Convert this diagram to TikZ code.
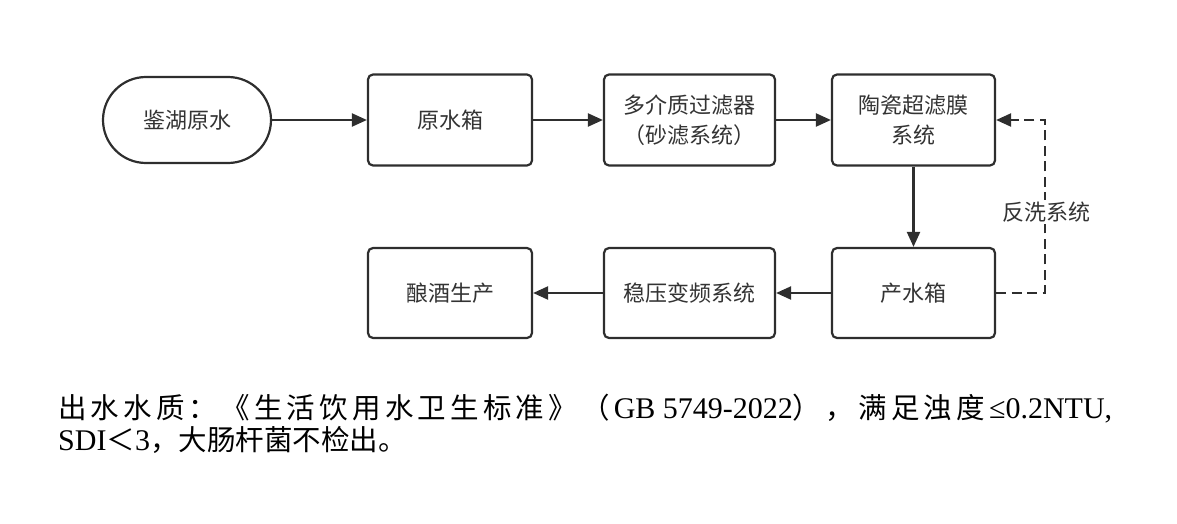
\documentclass[tikz,border=0pt]{standalone}
\usepackage{fontspec}
\setmainfont{Liberation Serif}
\newfontfamily\cjk{Noto Sans CJK SC}
\usetikzlibrary{arrows.meta}
\definecolor{lc}{HTML}{2E2E2E}
\definecolor{tc}{HTML}{333333}
\def\spreadloop#1{\ifx#1\relax\else#1\hspace{0pt plus 1fil}\expandafter\spreadloop\fi}
\newcommand\cjkn{\cjk\fontsize{28.5}{34}\selectfont}
\begin{document}
\begin{tikzpicture}[x=1pt,y=-1pt,
  box/.style={draw=lc, line width=2.2pt, rounded corners=5pt, minimum width=164pt, minimum height=91pt,
    font=\cjk\fontsize{22}{30}\selectfont, text=tc, align=center, inner sep=0pt},
  arr/.style={draw=lc, line width=2.2pt, -{Triangle[length=15pt,width=13pt]}},
  note/.style={anchor=west, inner sep=0pt, font=\fontsize{30}{34}\selectfont, text=black},
]
\path[use as bounding box] (0,0) rectangle (1177,524);
\node[box, rounded corners=43pt, minimum width=168pt, minimum height=86pt] (a) at (187,120) {鉴湖原水};
\node[box] (b) at (450,120) {原水箱};
\node[box, minimum width=171pt] (c) at (689.5,120) {多介质过滤器\\（砂滤系统）};
\node[box, minimum width=163pt] (d) at (913.5,120) {陶瓷超滤膜\\系统};
\node[box, minimum width=163pt, minimum height=90pt] (e) at (913.5,293) {产水箱};
\node[box, minimum width=171pt, minimum height=90pt] (f) at (689.5,293) {稳压变频系统};
\node[box, minimum height=90pt] (g) at (450,293) {酿酒生产};
\draw[arr] (a) -- (b);
\draw[arr] (b) -- (c);
\draw[arr] (c) -- (d);
\draw[arr] (d) -- (e);
\draw[arr] (e) -- (f);
\draw[arr] (f) -- (g);
\coordinate (q) at (1045,120);
\draw[arr, dash pattern=on 10pt off 5.5pt] (e.east) -| (q) -- (d.east);
\node[fill=white, inner sep=2pt, font=\cjk\fontsize{22}{26}\selectfont, text=tc] (lbl) at (1046,212) {反洗系统};
\node[note] (n1) at (58,409) {\hbox to 1054pt{{\cjkn\spreadloop 出水水质：《生活饮用水卫生标准》（\relax}GB 5749-2022{\cjkn\spreadloop ），满足浊度\relax}≤0.2NTU,}};
\node[note] (n2) at (58,440) {SDI{\cjkn ＜}3{\cjkn ，大肠杆菌不检出。}};
\end{tikzpicture}
\end{document}
